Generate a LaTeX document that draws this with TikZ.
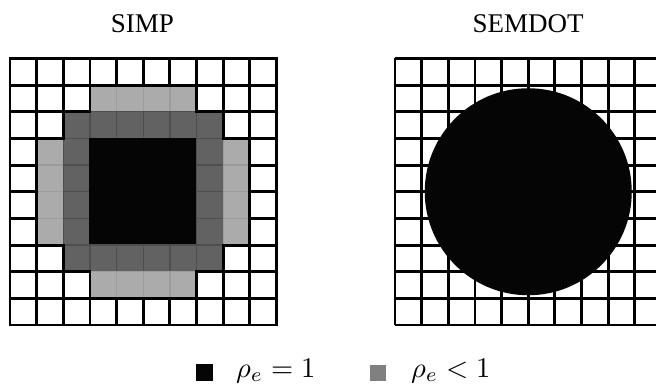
\documentclass[tikz,border=0pt]{standalone}
\usepackage{fontspec}
\newfontfamily\titlefont{Liberation Serif}
\definecolor{lgray}{HTML}{ABABAB}
\definecolor{lgrayline}{HTML}{9C9C9C}
\definecolor{dgray}{HTML}{626262}
\definecolor{dgrayline}{HTML}{4E4E4E}
\definecolor{mgray}{HTML}{808080}
\definecolor{ink}{HTML}{050505}
\tikzset{
  gridline/.style={draw=black, line width=2.9pt},
  lightcell/.style={fill=lgray, draw=lgrayline, line width=1.4pt},
  darkcell/.style={fill=dgray, draw=dgrayline, line width=1.4pt},
  title/.style={font=\titlefont\fontsize{27}{30}\selectfont, anchor=base},
  legend/.style={anchor=base west, inner sep=0pt},
}
\begin{document}
\begin{tikzpicture}[x=1pt,y=-1pt]
\clip (0,0) rectangle (656,385);
\fill[white] (0,0) rectangle (656,385);
\def\cs{26.65}
% ---- SIMP grid ----
\begin{scope}[shift={(10,58.5)}]
  % pass 1: shaded cells
  \foreach \c in {0,...,9}{
    \foreach \r in {0,...,9}{
      \pgfmathsetmacro\dx{abs(\c-4.5)}
      \pgfmathsetmacro\dy{abs(\r-4.5)}
      \pgfmathtruncatemacro\t{(\dx<2 && \dy<2) ? 3 : ((\dx<3 && \dy<3) ? 2 : (((\dy==3.5 && \dx<2) || (\dx==3.5 && \dy<2)) ? 1 : 0))}
      \ifcase\t\relax
      \or \path[lightcell] (\c*\cs,\r*\cs) rectangle ++(\cs,\cs);
      \or \path[darkcell] (\c*\cs,\r*\cs) rectangle ++(\cs,\cs);
      \or \fill[ink] (\c*\cs-0.5,\r*\cs-0.5) rectangle ++(\cs+1,\cs+1);
      \fi
    }
  }
  % pass 2: white cells with black borders
  \foreach \c in {0,...,9}{
    \foreach \r in {0,...,9}{
      \pgfmathsetmacro\dx{abs(\c-4.5)}
      \pgfmathsetmacro\dy{abs(\r-4.5)}
      \pgfmathtruncatemacro\t{(\dx<2 && \dy<2) ? 3 : ((\dx<3 && \dy<3) ? 2 : (((\dy==3.5 && \dx<2) || (\dx==3.5 && \dy<2)) ? 1 : 0))}
      \ifnum\t=0
        \path[gridline] (\c*\cs,\r*\cs) rectangle ++(\cs,\cs);
      \fi
    }
  }
\end{scope}
% ---- SEMDOT grid ----
\begin{scope}[shift={(395,58.5)}]
  \foreach \i in {0,...,10}{
    \path[gridline] (\i*\cs,0) -- (\i*\cs,10*\cs);
    \path[gridline] (0,\i*\cs) -- (10*\cs,\i*\cs);
  }
  \fill[ink] (5*\cs,5*\cs) circle[radius=103.5];
\end{scope}
% ---- titles ----
\node[title] (simp) at (142.5,33) {SIMP};
\node[title] (semdot) at (528,33) {SEMDOT};
% ---- legend ----
\fill[ink] (196,364) rectangle (213,381);
\node[legend] (rho1) at (236,377) {\scalebox{2.85}{$\rho_e = 1$}};
\fill[mgray] (370,365) rectangle (386,381);
\node[legend] (rho2) at (411,377) {\scalebox{2.85}{$\rho_e < 1$}};
\end{tikzpicture}
\end{document}
